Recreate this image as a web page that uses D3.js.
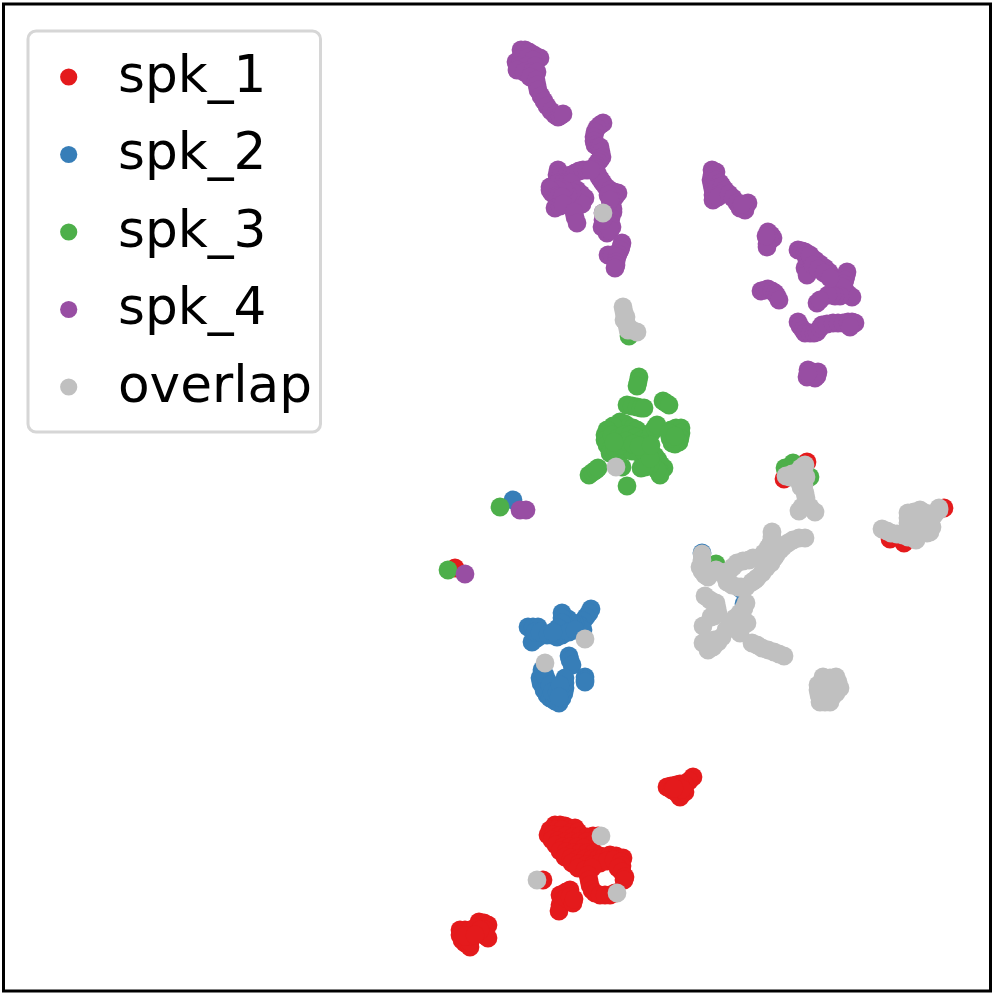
<!DOCTYPE html>
<html><head><meta charset="utf-8">
<script src="https://cdn.jsdelivr.net/npm/d3@7"></script>
<style>html,body{margin:0;padding:0;background:#fff}svg{display:block}</style>
</head><body>
<script>
const labels = ["spk_1","spk_2","spk_3","spk_4","overlap"];
const colors = ["#e41a1c","#377eb8","#4daf4a","#984ea3","#c0c0c0"];

const spk_1 = [[693,777],[689,781],[685,785],[680,784],[676,785],[671,786],[667,787],[672,790],[677,793],[680,797],[685,792],[682,789],[674,788],
[555,825],[560,825],[565,826],[570,828],[575,828],[550,830],[556,830],[562,830],[570,833],[578,832],[548,835],[553,835],[559,836],[566,836],[573,837],[580,836],[587,837],[593,836],[598,836],
[552,840],[558,841],[565,842],[572,842],[579,842],[586,842],[591,845],[556,845],[563,847],[570,847],[577,847],[584,848],[560,851],[566,852],[573,853],[580,853],[587,853],[594,853],[600,856],
[565,857],[571,858],[578,859],[585,859],[592,859],[598,859],[604,857],[610,855],[616,856],[623,858],
[572,863],[579,864],[586,865],[593,865],[600,863],[607,861],[614,860],[621,862],[622,866],[578,868],[585,870],[592,868],[618,868],
[622,872],[625,877],[624,880],[588,875],[589,880],[590,885],[592,890],[595,893],[600,895],[605,895],[610,895],[615,893],
[543,880],
[570,890],[566,892],[560,895],[563,900],[560,905],[559,911],[566,898],[570,897],[573,903],[574,899],
[479,922],[484,923],[488,925],[485,930],[484,935],[488,938],[460,930],[465,930],[470,930],[475,928],[460,935],[462,940],[465,943],[470,947],[470,942],[470,936],[465,936],[480,930],[475,935],
[455,568],[807,462],[784,479],[944,508],[890,539],[904,543]];

const spk_2 = [[591,609],[589,613],[586,617],[583,621],[579,625],[583,630],[575,624],[572,623],[568,619],[562,613],[562,618],[562,623],[558,628],[552,635],[547,635],[542,635],[537,638],[532,642],[528,627],[533,627],[538,627],[535,632],[540,632],[557,637],[562,635],[569,632],[575,630],[548,634],[553,632],
[569,656],[570,660],[572,665],[585,677],[585,680],[585,682],
[540,678],[541,683],[544,690],[547,695],[550,698],[555,701],[559,703],[562,698],[564,693],[565,688],[565,683],[565,678],[555,687],[547,680],[542,670],[545,675],[550,685],[552,692],[557,692],[560,685],[559,697],
[513,500],[702,553],[744,604],[741,589]];

const spk_3 = [[639,377],[638,382],[637,386],[627,405],[632,406],[637,407],[641,408],[644,408],[663,401],[666,403],[669,405],
[620,422],[625,424],[629,427],[633,428],[637,430],[613,426],[607,430],[605,435],[605,440],[607,445],[610,450],[610,453],[615,455],[615,448],[626,450],[632,451],[638,452],[644,452],[650,452],[655,456],[658,460],[661,465],[664,468],[660,472],[660,475],[657,470],[650,465],[645,467],[641,468],[650,458],[612,435],[618,438],[624,435],[630,435],[636,437],[642,440],[648,440],[652,432],[655,428],[657,425],[645,445],[620,445],[626,441],[633,444],[639,446],[614,442],[651,445],[622,467],
[671,430],[676,428],[681,428],[681,433],[680,438],[679,442],[675,444],[672,443],[670,438],[669,433],[675,436],
[589,475],[593,472],[596,470],[598,468],[627,486],
[500,507],[448,570],[629,336],[793,463],[785,468],[810,477],[716,564]];

const spk_4 = [[521,50],[525,50],[529,52],[534,55],[540,58],[516,62],[521,58],[527,58],[533,60],[519,66],[527,66],[535,66],[517,70],[524,72],[532,72],[537,72],[530,77],[536,80],
[537,85],[538,90],[541,96],[544,101],[547,106],[551,111],[555,115],[558,117],[560,116],[563,114],
[603,123],[600,125],[597,128],[595,132],[594,137],[594,141],[595,145],[598,147],[600,147],[601,152],[602,157],[600,160],[598,162],[596,165],[595,167],[596,170],[597,173],[599,177],[601,180],[603,183],[606,187],[610,190],[614,192],[618,193],[615,197],[612,200],[612,205],[613,209],[613,212],[611,218],[610,223],[608,195],[610,200],[603,213],
[604,222],[602,227],[607,233],[612,227],[605,228],[610,230],[603,220],
[622,243],[621,247],[620,250],[618,254],[608,255],[612,255],[617,257],[616,262],[616,265],[615,268],
[558,170],[557,175],[560,177],[566,176],[571,175],[575,173],[579,171],[583,170],[587,170],[591,170],[550,187],[554,185],[558,183],[563,183],[567,183],[571,183],[577,190],[581,194],[585,198],[582,204],[572,192],[568,195],[564,190],[558,190],[552,193],[550,190],[556,196],[558,197],[562,197],
[555,208],[560,206],[563,204],[575,217],[574,212],[577,223],
[712,170],[716,172],[712,175],[711,180],[712,185],[713,190],[713,195],[713,200],[716,180],[720,183],[717,188],[722,186],[725,190],[721,194],[718,197],[729,194],[733,198],[737,203],[740,208],[745,210],[748,203],[745,205],[742,204],
[768,232],[771,235],[773,238],[770,240],[767,244],[767,247],[766,236],
[798,250],[802,251],[805,252],[806,256],[807,260],[807,264],[805,268],[807,272],[807,275],[811,258],[815,260],[820,264],[825,268],[829,272],[833,277],[837,281],[841,285],[845,290],[848,294],[852,297],[847,272],[846,276],[845,280],[843,284],[842,287],[840,296],[835,296],[832,295],[828,295],[817,303],[820,300],[810,255],[813,265],[818,269],[824,273],[830,278],
[761,291],[765,290],[768,289],[772,291],[775,293],[777,296],[779,300],
[798,322],[800,326],[803,330],[805,333],[810,333],[814,333],[817,332],[820,328],[822,325],[827,324],[833,323],[838,323],[843,323],[848,322],[852,322],[855,323],[850,327],
[808,370],[813,372],[818,372],[815,378],[807,377],[811,376],[817,376],[808,373],
[520,510],[526,510],[465,574]];

const overlap = [[623,307],[624,312],[626,317],[624,320],[626,322],[627,325],[628,330],[632,330],[637,332],
[603,213],[616,467],[585,639],[545,663],[601,836],[537,880],[617,893],
[805,465],[801,468],[798,472],[792,474],[786,476],[790,477],[798,478],[804,478],[806,477],[800,483],[804,485],[801,487],[805,493],[806,498],[806,502],[802,507],[799,511],[810,507],[815,512],
[882,529],[887,531],[891,533],[897,534],[903,535],[908,537],[916,540],[911,533],[917,533],[922,533],[927,533],[930,532],[932,527],[930,520],[934,515],[939,510],[939,508],[930,514],[925,518],[920,524],[908,518],[908,513],[914,512],[920,510],[925,513],[908,523],[913,522],[918,517],
[702,554],[702,560],[700,567],[702,571],[705,575],[708,577],[712,572],[716,570],[720,572],[725,573],[726,578],[727,582],[732,585],[738,587],[741,587],
[729,571],[733,567],[737,563],[743,561],[749,560],[753,558],
[746,587],[752,582],[755,580],[757,578],[762,573],[766,568],[771,563],[774,558],[776,555],[780,550],[783,547],[788,543],[793,540],[799,538],[805,538],[764,553],[766,558],[768,548],[771,543],[772,537],[772,532],[770,555],[765,562],
[705,596],[710,600],[716,603],[717,608],[718,613],[714,616],[711,617],[703,626],
[746,603],[744,608],[740,613],[735,618],[730,623],[726,630],[722,637],[718,642],[713,647],[708,650],[703,643],[708,644],[714,640],[747,623],[744,620],[740,633],[741,628],[736,625],[709,648],
[752,643],[757,645],[762,648],[768,650],[774,652],[779,654],[784,656],
[823,677],[830,678],[836,677],[838,682],[840,688],[836,693],[832,697],[830,702],[825,702],[820,702],[819,695],[818,690],[818,685],[825,688],[830,688],[825,695]];

const series = [spk_1, spk_2, spk_3, spk_4, overlap];

const W = 995, H = 995;
const x = d3.scaleLinear().domain([3.5, 990.5]).range([3.5, 990.5]);
const y = d3.scaleLinear().domain([4, 991]).range([4, 991]);

const svg = d3.select("body").append("svg").attr("width", W).attr("height", H);

svg.append("g").selectAll("g").data(series).join("g")
  .attr("fill", (d, i) => colors[i])
  .selectAll("circle").data(d => d).join("circle")
  .attr("cx", d => x(d[0])).attr("cy", d => y(d[1])).attr("r", 9.4);

svg.append("rect").attr("x", x.range()[0]).attr("y", y.range()[0])
  .attr("width", x.range()[1] - x.range()[0]).attr("height", y.range()[1] - y.range()[0])
  .attr("fill", "none").attr("stroke", "#000").attr("stroke-width", 3);

const legend = svg.append("g");
legend.append("rect").attr("x", 28).attr("y", 31).attr("width", 292.5).attr("height", 401)
  .attr("rx", 8).attr("fill", "#fff").attr("fill-opacity", 0.8)
  .attr("stroke", "#d6d6d6").attr("stroke-width", 3);
const row = legend.selectAll("g").data(labels).join("g")
  .attr("transform", (d, i) => `translate(0,${77 + i * 77.5})`);
row.append("circle").attr("cx", 68.7).attr("cy", 0).attr("r", 8.6).attr("fill", (d, i) => colors[i]);
row.append("text").attr("x", 118).attr("y", 14.5).text(d => d)
  .attr("font-family", "'DejaVu Sans'").attr("font-size", 51.7).attr("fill", "#000");
</script>
</body></html>
